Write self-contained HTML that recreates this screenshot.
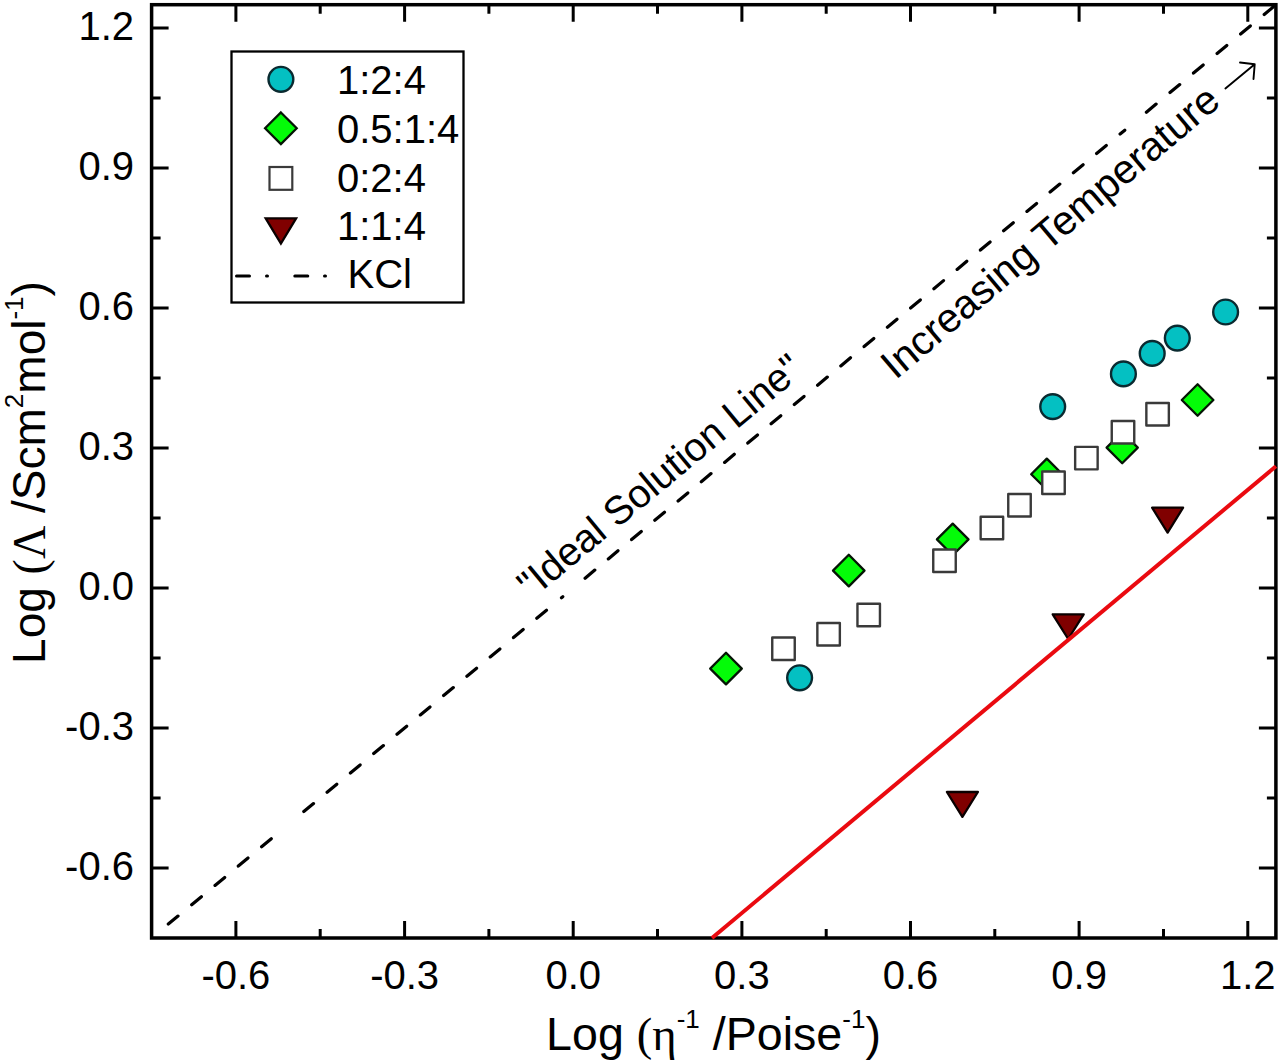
<!DOCTYPE html>
<html><head><meta charset="utf-8">
<style>
html,body{margin:0;padding:0;background:#fff;width:1280px;height:1064px;overflow:hidden}
svg{display:block}
text{font-family:"Liberation Sans",sans-serif;fill:#000}
</style></head>
<body>
<svg width="1280" height="1064" viewBox="0 0 1280 1064">
<rect x="0" y="0" width="1280" height="1064" fill="#fff"/>

<!-- ideal solution line (dashed) -->
<path id="ideal" d="M168.3 924.1L178.0 916.1M191.7 904.8L201.4 896.7M215.0 885.4L224.7 877.4M238.3 866.1L248.0 858.0M261.6 846.7L271.3 838.7M303.8 811.6L313.5 803.6M327.1 792.3L336.8 784.3M350.4 773.0L360.1 764.9M373.7 753.6L383.4 745.6M397.0 734.3L406.7 726.2M420.3 714.9L430.0 706.9M443.6 695.6L453.3 687.6M466.9 676.3L476.6 668.2M490.2 656.9L499.9 648.9M513.5 637.6L523.2 629.5M536.8 618.2L546.5 610.2M561.5 597.7L562.8 596.7M585.1 578.2L594.8 570.1M608.3 558.9L618.0 550.8M631.6 539.6L641.3 531.5M654.8 520.3L664.5 512.2M678.1 501.0L687.8 492.9M701.3 481.7L711.0 473.6M724.6 462.4L734.3 454.3M747.8 443.1L757.5 435.0M771.1 423.8L780.8 415.7M794.3 404.5L804.0 396.4M817.6 385.2L827.3 377.1M840.8 365.9L850.5 357.8M864.1 346.6L873.8 338.5M887.4 327.3L897.0 319.2M910.6 308.0L920.3 299.9M933.9 288.7L943.5 280.6M957.1 269.4L966.8 261.3M980.4 250.1L990.1 242.0M1003.6 230.8L1013.3 222.7M1026.9 211.4L1036.6 203.4M1050.1 192.1L1059.8 184.1M1073.4 172.8L1083.1 164.8M1096.6 153.5L1106.3 145.5M1120.1 134.0L1124.8 130.2M1146.4 112.2L1156.1 104.1M1170.0 92.6L1179.7 84.6M1193.5 73.1L1203.2 65.0M1217.1 53.5L1226.8 45.5M1240.6 34.0L1250.3 25.9M1264.2 14.5L1273.4 6.8" stroke="#000" stroke-width="3.2" stroke-linecap="round" fill="none"/>


<!-- frame -->
<rect x="151.6" y="4.7" width="1124.3" height="933.3" fill="none" stroke="#000" stroke-width="3.5"/>
<path fill="none" stroke="#000" stroke-width="3" d="M235.9 938.0V921.0M235.9 4.7V21.7M151.6 868.0H168.6M1275.9 868.0H1258.9M404.6 938.0V921.0M404.6 4.7V21.7M151.6 728.0H168.6M1275.9 728.0H1258.9M573.2 938.0V921.0M573.2 4.7V21.7M151.6 588.0H168.6M1275.9 588.0H1258.9M741.9 938.0V921.0M741.9 4.7V21.7M151.6 448.0H168.6M1275.9 448.0H1258.9M910.5 938.0V921.0M910.5 4.7V21.7M151.6 308.0H168.6M1275.9 308.0H1258.9M1079.1 938.0V921.0M1079.1 4.7V21.7M151.6 168.0H168.6M1275.9 168.0H1258.9M1247.8 938.0V921.0M1247.8 4.7V21.7M151.6 28.0H168.6M1275.9 28.0H1258.9M320.2 938.0V929.0M320.2 4.7V13.7M151.6 798.0H160.6M1275.9 798.0H1266.9M488.9 938.0V929.0M488.9 4.7V13.7M151.6 658.0H160.6M1275.9 658.0H1266.9M657.5 938.0V929.0M657.5 4.7V13.7M151.6 518.0H160.6M1275.9 518.0H1266.9M826.2 938.0V929.0M826.2 4.7V13.7M151.6 378.0H160.6M1275.9 378.0H1266.9M994.8 938.0V929.0M994.8 4.7V13.7M151.6 238.0H160.6M1275.9 238.0H1266.9M1163.5 938.0V929.0M1163.5 4.7V13.7M151.6 98.0H160.6M1275.9 98.0H1266.9"/>

<!-- y tick labels -->
<g font-size="40" text-anchor="end">
<text x="134" y="40">1.2</text>
<text x="134" y="180">0.9</text>
<text x="134" y="320">0.6</text>
<text x="134" y="460">0.3</text>
<text x="134" y="600">0.0</text>
<text x="134" y="740">-0.3</text>
<text x="134" y="880">-0.6</text>
</g>
<!-- x tick labels -->
<g font-size="40" text-anchor="middle">
<text x="235.9" y="989">-0.6</text>
<text x="404.6" y="989">-0.3</text>
<text x="573.2" y="989">0.0</text>
<text x="741.9" y="989">0.3</text>
<text x="910.5" y="989">0.6</text>
<text x="1079.1" y="989">0.9</text>
<text x="1247.8" y="989">1.2</text>
</g>

<!-- axis titles -->
<text x="713.5" y="1050" font-size="46.6" text-anchor="middle">Log <tspan font-family="Liberation Serif">(η</tspan><tspan font-size="26" dy="-22">-1</tspan><tspan dy="22"> /Poise</tspan><tspan font-size="26" dy="-22">-1</tspan><tspan dy="22">)</tspan></text>
<text transform="translate(45.4,472.5) rotate(-90)" font-size="46" text-anchor="middle">Log <tspan font-family="Liberation Serif">(Λ</tspan> /Scm<tspan font-size="26" dy="-22">2</tspan><tspan dy="22">mol</tspan><tspan font-size="26" dy="-22">-1</tspan><tspan dy="22">)</tspan></text>

<!-- annotations -->
<text transform="translate(531.5,600) rotate(-39.7)" font-size="39.8">"Ideal Solution Line"</text>
<text transform="translate(895.5,380.5) rotate(-40.2)" font-size="40.8">Increasing Temperature</text>
<path d="M1225.4 88.5L1254.7 64.3M1240 62.5L1254.7 64.3L1253.5 79" fill="none" stroke="#000" stroke-width="1.9" stroke-linecap="round" stroke-linejoin="round"/>

<!-- legend -->
<rect x="231.5" y="51.5" width="232" height="251" fill="#fff" stroke="#000" stroke-width="2.3"/>
<circle cx="280.9" cy="79.3" r="12.4" fill="#04c0c2" stroke="#0a2a30" stroke-width="2.4"/>
<path d="M280.9 112.5L296.7 128.3L280.9 144.1L265.1 128.3Z" fill="#04fc08" stroke="#051505" stroke-width="2.3"/>
<rect x="269.5" y="167" width="22.8" height="22.8" fill="#fff" stroke="#3a3a3a" stroke-width="2.2"/>
<path d="M265.7 218.4L296.1 218.4L280.9 243.6Z" fill="#800000" stroke="#0a0000" stroke-width="2.3"/>
<path d="M236.5 275.9H249.5M266.5 275.9H267.5M294.8 275.9H307.8M324.5 275.9H325.5" stroke="#000" stroke-width="3" stroke-linecap="round"/>
<g font-size="40">
<text x="337" y="94.3">1:2:4</text>
<text x="337" y="143.2">0.5:1:4</text>
<text x="337" y="191.8">0:2:4</text>
<text x="337" y="240">1:1:4</text>
<text x="347.5" y="288.3">KCl</text>
</g>

<!-- diamonds -->
<g fill="#04fc08" stroke="#051505" stroke-width="2.3" stroke-linejoin="round">
<path d="M1197.6 384.2L1213.4 400.0L1197.6 415.8L1181.8 400.0Z"/>
<path d="M1122.2 432.0L1137.8 447.6L1122.2 463.2L1106.6 447.6Z"/>
<path d="M1046.8 458.6L1062.4 474.2L1046.8 489.8L1031.2 474.2Z"/>
<path d="M952.7 523.6L968.5 539.4L952.7 555.2L936.9 539.4Z"/>
<path d="M848.8 554.8L864.5 570.6L848.8 586.4L833.0 570.6Z"/>
<path d="M726.0 652.8L741.8 668.6L726.0 684.4L710.2 668.6Z"/>
</g>
<!-- squares -->
<g fill="#fff" stroke="#3a3a3a" stroke-width="2.4" stroke-linejoin="round">
<rect x="1146.35" y="402.95" width="22.5" height="22.5"/>
<rect x="1111.75" y="421.05" width="22.5" height="22.5"/>
<rect x="1075.15" y="446.85" width="22.5" height="22.5"/>
<rect x="1042.25" y="471.45" width="22.5" height="22.5"/>
<rect x="1008.25" y="493.95" width="22.5" height="22.5"/>
<rect x="980.65" y="516.75" width="22.5" height="22.5"/>
<rect x="933.25" y="549.55" width="22.5" height="22.5"/>
<rect x="857.45" y="603.75" width="22.5" height="22.5"/>
<rect x="817.35" y="623.05" width="22.5" height="22.5"/>
<rect x="772.25" y="637.55" width="22.5" height="22.5"/>
</g>
<!-- circles -->
<g fill="#04c0c2" stroke="#0a2a30" stroke-width="2.4">
<circle cx="1225.6" cy="312.0" r="12.4"/>
<circle cx="1177.3" cy="338.1" r="12.4"/>
<circle cx="1152.2" cy="353.4" r="12.4"/>
<circle cx="1123.4" cy="373.9" r="12.4"/>
<circle cx="1052.7" cy="406.6" r="12.4"/>
<circle cx="799.6" cy="677.8" r="12.4"/>
</g>
<!-- triangles -->
<g fill="#800000" stroke="#0a0000" stroke-width="2.3" stroke-linejoin="round">
<path d="M1152.1 507.7L1183.1 507.7L1167.6 532.6Z"/>
<path d="M1052.7 614.3L1083.7 614.3L1068.2 639.0Z"/>
<path d="M946.9 792.0L977.9 792.0L962.4 816.9Z"/>
</g>
<line id="red" x1="712" y1="938" x2="1275.9" y2="466.3" stroke="#ea0a10" stroke-width="4"/>
</svg>
</body></html>
